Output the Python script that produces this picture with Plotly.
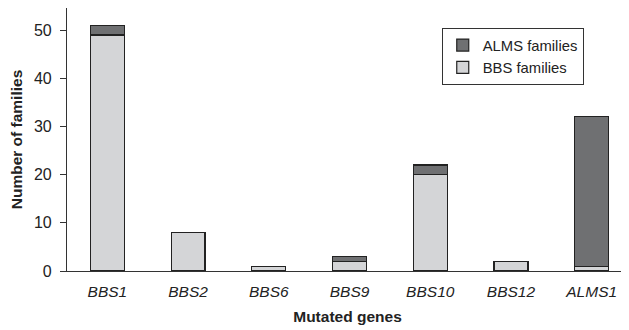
import plotly.graph_objects as go

genes = ["BBS1", "BBS2", "BBS6", "BBS9", "BBS10", "BBS12", "ALMS1"]
bbs_families = [49, 8, 1, 2, 20, 2, 1]
alms_families = [2, 0, 0, 1, 2, 0, 31]
y_ticks = [0, 10, 20, 30, 40, 50]

FS = 15.5

fig = go.Figure()
fig.add_trace(go.Bar(x=genes, y=[v if v else None for v in bbs_families], name="BBS families",
                     marker=dict(color="#d4d5d7", line=dict(color="#222222", width=1.2)),
                     width=0.42))
fig.add_trace(go.Bar(x=genes, y=[v if v else None for v in alms_families], name="ALMS families",
                     marker=dict(color="#6f7072", line=dict(color="#222222", width=1.2)),
                     width=0.42))

# page body has an 8px margin, so the figure is sized/offset to compensate
fig.update_layout(
    barmode="stack",
    width=621, height=322,
    margin=dict(l=59, r=1, t=0, b=59, autoexpand=False),
    plot_bgcolor="white", paper_bgcolor="white",
    font=dict(family="Liberation Sans, Arial, sans-serif", size=FS, color="#222222"),
    legend=dict(x=0.668, y=0.924, xanchor="left", yanchor="top",
                traceorder="reversed",
                bordercolor="#333333", borderwidth=1,
                font=dict(size=14.8), itemwidth=30, tracegroupgap=0,
                bgcolor="white"),
    xaxis=dict(
        tickmode="array", tickvals=genes,
        ticktext=[f"<i>{g}</i>" for g in genes],
        range=[-0.5, 6.45],
        showline=True, linecolor="#333333", linewidth=1.2,
        ticks="outside", ticklen=6, tickcolor="rgba(0,0,0,0)",
        showgrid=False, automargin=False,
        title=dict(text="<b>Mutated genes</b>", font=dict(size=FS), standoff=12),
        tickfont=dict(size=FS),
    ),
    yaxis=dict(
        range=[0, 54.6], tickvals=y_ticks,
        showline=True, linecolor="#333333", linewidth=1.2,
        ticks="outside", ticklen=6, tickcolor="#333333",
        ticklabelstandoff=5,
        showgrid=False, zeroline=False, automargin=False,
        title=dict(text="<b>Number of families</b>", font=dict(size=FS), standoff=9),
        tickfont=dict(size=16),
    ),
)

fig.write_html("out.html")
